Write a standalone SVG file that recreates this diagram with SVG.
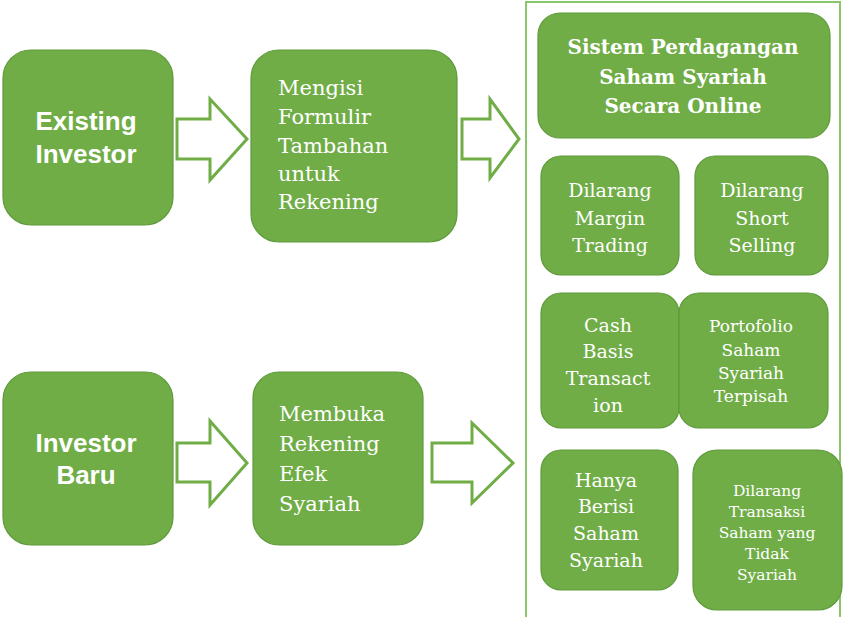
<svg xmlns="http://www.w3.org/2000/svg" width="843" height="617" viewBox="0 0 843 617">
<style>
.node{fill:#70AD47;stroke:#5E9A3A;stroke-width:1.2}
.arrow{fill:#FFFFFF;stroke:#70AD47;stroke-width:3;stroke-linejoin:miter}
.sans{font-family:"Liberation Sans",Arial,sans-serif;font-weight:bold;font-size:26px;fill:#FFFFFF;text-anchor:middle}
.ser{font-family:"DejaVu Serif","Liberation Serif",serif;fill:#FFFFFF}
.mid{text-anchor:middle}
</style>
<rect x="0" y="0" width="843" height="617" fill="#FFFFFF"/>
<rect id="container" x="526" y="2" width="314" height="640" fill="none" stroke="#8CC66A" stroke-width="2"/>
<g id="connectors">
<polygon class="arrow" points="177,119 210,119 210,99 247,139 210,180 210,159 177,159"/>
<polygon class="arrow" points="462,119 490,119 490,99 519,139 490,178 490,159 462,159"/>
<polygon class="arrow" points="177,443 210,443 210,421 247,463 210,505 210,482 177,482"/>
<polygon class="arrow" points="432,443 472,443 472,423 513,463 472,503 472,482 432,482"/>
</g>
<g id="existing-investor">
<rect class="node" x="3" y="50" width="170" height="175" rx="28"/>
<text class="sans" x="86" y="130">Existing</text>
<text class="sans" x="86" y="163">Investor</text>
</g>
<g id="mengisi">
<rect class="node" x="251" y="50" width="206" height="192" rx="28"/>
<text class="ser" font-size="21" x="278" y="95">Mengisi</text>
<text class="ser" font-size="21" x="278" y="124">Formulir</text>
<text class="ser" font-size="21" x="278" y="153">Tambahan</text>
<text class="ser" font-size="21" x="278" y="181">untuk</text>
<text class="ser" font-size="21" x="278" y="209">Rekening</text>
</g>
<g id="investor-baru">
<rect class="node" x="3" y="372" width="170" height="173" rx="28"/>
<text class="sans" x="86" y="452">Investor</text>
<text class="sans" x="86" y="484">Baru</text>
</g>
<g id="membuka">
<rect class="node" x="253" y="372" width="170" height="173" rx="26"/>
<text class="ser" font-size="21" x="279" y="421">Membuka</text>
<text class="ser" font-size="21" x="279" y="451">Rekening</text>
<text class="ser" font-size="21" x="279" y="481">Efek</text>
<text class="ser" font-size="21" x="279" y="511">Syariah</text>
</g>
<g id="sistem">
<rect class="node" x="538" y="13" width="292" height="125" rx="22"/>
<text class="ser mid" font-size="20" font-weight="bold" x="683" y="54">Sistem Perdagangan</text>
<text class="ser mid" font-size="20" font-weight="bold" x="683" y="84">Saham Syariah</text>
<text class="ser mid" font-size="20" font-weight="bold" x="683" y="113">Secara Online</text>
</g>
<g id="margin">
<rect class="node" x="541" y="156" width="138" height="119" rx="20"/>
<text class="ser mid" font-size="19" x="610" y="197">Dilarang</text>
<text class="ser mid" font-size="19" x="610" y="225">Margin</text>
<text class="ser mid" font-size="19" x="610" y="252">Trading</text>
</g>
<g id="short">
<rect class="node" x="695" y="156" width="133" height="119" rx="20"/>
<text class="ser mid" font-size="19" x="762" y="197">Dilarang</text>
<text class="ser mid" font-size="19" x="762" y="225">Short</text>
<text class="ser mid" font-size="19" x="762" y="252">Selling</text>
</g>
<g id="cash">
<rect class="node" x="541" y="293" width="138" height="135" rx="20"/>
<text class="ser mid" font-size="19" x="608" y="332">Cash</text>
<text class="ser mid" font-size="19" x="608" y="358">Basis</text>
<text class="ser mid" font-size="19" x="608" y="385">Transact</text>
<text class="ser mid" font-size="19" x="608" y="412">ion</text>
</g>
<g id="portofolio">
<rect class="node" x="679" y="293" width="149" height="135" rx="20"/>
<text class="ser mid" font-size="17" x="751" y="332">Portofolio</text>
<text class="ser mid" font-size="17" x="751" y="356">Saham</text>
<text class="ser mid" font-size="17" x="751" y="379">Syariah</text>
<text class="ser mid" font-size="17" x="751" y="402">Terpisah</text>
</g>
<g id="hanya">
<rect class="node" x="541" y="450" width="137" height="140" rx="20"/>
<text class="ser mid" font-size="19" x="606" y="487">Hanya</text>
<text class="ser mid" font-size="19" x="606" y="513">Berisi</text>
<text class="ser mid" font-size="19" x="606" y="540">Saham</text>
<text class="ser mid" font-size="19" x="606" y="567">Syariah</text>
</g>
<g id="transaksi">
<rect class="node" x="693" y="450" width="149" height="160" rx="24"/>
<text class="ser mid" font-size="15.5" x="767" y="496">Dilarang</text>
<text class="ser mid" font-size="15.5" x="767" y="517">Transaksi</text>
<text class="ser mid" font-size="15.5" x="767" y="538">Saham yang</text>
<text class="ser mid" font-size="15.5" x="767" y="559">Tidak</text>
<text class="ser mid" font-size="15.5" x="767" y="580">Syariah</text>
</g>
</svg>
